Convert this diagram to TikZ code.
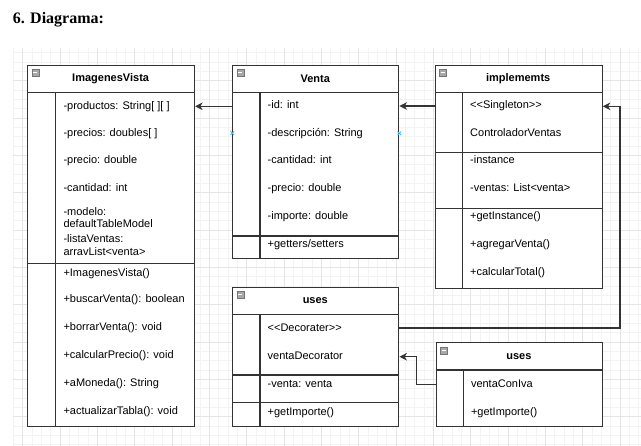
\documentclass[tikz,border=0pt]{standalone}
\usepackage{fontspec}
\setmainfont{Liberation Sans}[Ligatures=TeXReset]
\newfontfamily\titlefont{Liberation Serif}
\usetikzlibrary{arrows.meta}
\definecolor{gridminor}{HTML}{F3F3F3}
\definecolor{gridmajor}{HTML}{E5E5E5}
\definecolor{edge}{HTML}{333333}
\definecolor{icongray}{HTML}{A8A8A8}
\definecolor{markblue}{HTML}{4FB8E8}
\tikzset{
  umlbox/.style={draw=edge, line width=1.1pt, fill=white, anchor=north west, inner sep=0pt},
  ln/.style={draw=edge, line width=1.1pt},
  hdr/.style={font=\bfseries\fontsize{11}{13}\selectfont, inner sep=0pt},
  rowtxt/.style={anchor=west, inner sep=0pt, text height=7.9pt, text depth=2.3pt, font=\fontsize{11}{13}\selectfont},
  conn/.style={draw=edge, line width=1.1pt, -{Stealth[length=7.5pt,width=7.5pt,inset=2.2pt]}},
  hicon/.pic={\draw[fill=icongray, draw=icongray!70!black, line width=0.4pt] (0,0) rectangle (7,7);
              \draw[white, line width=1pt] (1.6,3.5) -- (5.4,3.5);},
  bluex/.pic={\draw[markblue, line width=0.9pt] (-1.8,-1.8) -- (1.8,1.8) (-1.8,1.8) -- (1.8,-1.8);}
}
\begin{document}
\begin{tikzpicture}[x=1pt,y=-1pt]
\useasboundingbox (0,0) rectangle (641,446);
% grid
\foreach \i in {0,...,67} \draw[gridminor, line width=0.5pt] ({13.4+\i*9.333},48) -- ({13.4+\i*9.333},446);
\foreach \j in {0,...,42} \draw[gridminor, line width=0.5pt] (13.4,{52.67+\j*9.333}) -- (641,{52.67+\j*9.333});
\foreach \i in {1,5,...,65} \draw[gridmajor, line width=0.6pt] ({13.4+\i*9.333},48) -- ({13.4+\i*9.333},446);
\foreach \j in {3,7,...,39} \draw[gridmajor, line width=0.6pt] (13.4,{52.67+\j*9.333}) -- (641,{52.67+\j*9.333});

% title
\node[anchor=base west, inner sep=0pt, font=\titlefont\bfseries\fontsize{16}{18}\selectfont] (title) at (12.7,24) {6. Diagrama:};

% ---------- ImagenesVista ----------
\node[umlbox, minimum width=166.7pt, minimum height=361.6pt] (iv) at (27.3,64.7) {};
\draw[ln] (27.3,92.3) -- (194,92.3);
\draw[ln] (27.3,263.3) -- (194,263.3);
\draw[ln] (55.3,92.3) -- (55.3,426.3);
\pic at (31.7,69) {hicon};
\node[hdr] (ivh) at (110.65,78.5) {ImagenesVista};
\node[rowtxt] (iv1) at (63.3,106.7) {-productos: String[ ][ ]};
\node[rowtxt] (iv2) at (63.3,134) {-precios: doubles[ ]};
\node[rowtxt] (iv3) at (63.3,160.7) {-precio: double};
\node[rowtxt] (iv4) at (63.3,188.3) {-cantidad: int};
\node[rowtxt] (iv5) at (63.3,212.3) {-modelo:};
\node[rowtxt] (iv6) at (63.3,225) {defaultTableModel};
\node[rowtxt] (iv7) at (63.3,240) {-listaVentas:};
\node[rowtxt] (iv8) at (63.3,252.7) {arravList{<}venta{>}};
\node[rowtxt] (iv9) at (63.3,273.3) {+ImagenesVista()};
\node[rowtxt] (iv10) at (63.3,300) {+buscarVenta(): boolean};
\node[rowtxt] (iv11) at (63.3,327.7) {+borrarVenta(): void};
\node[rowtxt] (iv12) at (63.3,355.7) {+calcularPrecio(): void};
\node[rowtxt] (iv13) at (63.3,383.3) {+aMoneda(): String};
\node[rowtxt] (iv14) at (63.3,411.7) {+actualizarTabla(): void};

% ---------- Venta ----------
\node[umlbox, minimum width=166pt, minimum height=193.3pt] (venta) at (232.3,64.7) {};
\draw[ln] (232.3,92.3) -- (398.3,92.3);
\draw[ln] (232.3,236) -- (398.3,236);
\draw[ln] (260,92.3) -- (260,258);
\pic at (236.7,69) {hicon};
\node[hdr] (vh) at (315.3,78.5) {Venta};
\node[rowtxt] (v1) at (267.5,105.7) {-id: int};
\node[rowtxt] (v2) at (267.5,133.3) {-descripción: String};
\node[rowtxt] (v3) at (267.5,161) {-cantidad: int};
\node[rowtxt] (v4) at (267.5,189) {-precio: double};
\node[rowtxt] (v5) at (267.5,216.7) {-importe: double};
\node[rowtxt] (v6) at (267.5,244.3) {+getters/setters};
\pic at (venta.west |- v2) {bluex};
\pic at (venta.east |- v2) {bluex};

% ---------- implememts ----------
\node[umlbox, minimum width=167pt, minimum height=223pt] (impl) at (434.7,64.7) {};
\draw[ln] (434.7,92.3) -- (601.7,92.3);
\draw[ln] (434.7,152.3) -- (601.7,152.3);
\draw[ln] (434.7,208.3) -- (601.7,208.3);
\draw[ln] (462.3,92.3) -- (462.3,287.7);
\pic at (439.1,69) {hicon};
\node[hdr] (ih) at (518.2,78.5) {implememts};
\node[rowtxt] (i1) at (470,105.7) {{<}{<}Singleton{>}{>}};
\node[rowtxt] (i2) at (470,134) {ControladorVentas};
\node[rowtxt] (i3) at (470,160.7) {-instance};
\node[rowtxt] (i4) at (470,189) {-ventas: List{<}venta{>}};
\node[rowtxt] (i5) at (470,216.7) {+getInstance()};
\node[rowtxt] (i6) at (470,245) {+agregarVenta()};
\node[rowtxt] (i7) at (470,272.3) {+calcularTotal()};

% ---------- uses (Decorater) ----------
\node[umlbox, minimum width=166pt, minimum height=139.3pt] (um) at (232.3,286.7) {};
\draw[ln] (232.3,314.3) -- (398.3,314.3);
\draw[ln] (232.3,375) -- (398.3,375);
\draw[ln] (232.3,402.7) -- (398.3,402.7);
\draw[ln] (260,314.3) -- (260,426);
\pic at (236.7,291.2) {hicon};
\node[hdr] (umh) at (315.3,300.5) {uses};
\node[rowtxt] (u1) at (267.5,328.3) {{<}{<}Decorater{>}{>}};
\node[rowtxt] (u2) at (267.5,356.7) {ventaDecorator};
\node[rowtxt] (u3) at (267.5,384.3) {-venta: venta};
\node[rowtxt] (u4) at (267.5,412.3) {+getImporte()};

% ---------- uses (ventaConIva) ----------
\node[umlbox, minimum width=166.3pt, minimum height=83.7pt] (ur) at (435.7,342.3) {};
\draw[ln] (435.7,370) -- (602,370);
\draw[ln] (463.3,370) -- (463.3,426);
\pic at (440.1,346.8) {hicon};
\node[hdr] (urh) at (518.85,356.2) {uses};
\node[rowtxt] (r1) at (470.8,384.3) {ventaConIva};
\node[rowtxt] (r2) at (470.8,412.3) {+getImporte()};

% ---------- connectors ----------
\coordinate (a1) at (300,106.3);
\draw[conn] (venta.west |- a1) -- (iv.east |- a1);
\coordinate (a2) at (400,106);
\draw[conn] (impl.west |- a2) -- (venta.east |- a2);
\coordinate (b1) at (620,328);
\coordinate (b2) at (620,106.3);
\draw[conn] (um.east |- b1) -- (b1) -- (b2) -- (impl.east |- b2);
\coordinate (b3) at (416.7,384.3);
\coordinate (b4) at (416.7,356.7);
\draw[conn] (ur.west |- b3) -- (b3) -- (b4) -- (um.east |- b4);
\end{tikzpicture}
\end{document}
